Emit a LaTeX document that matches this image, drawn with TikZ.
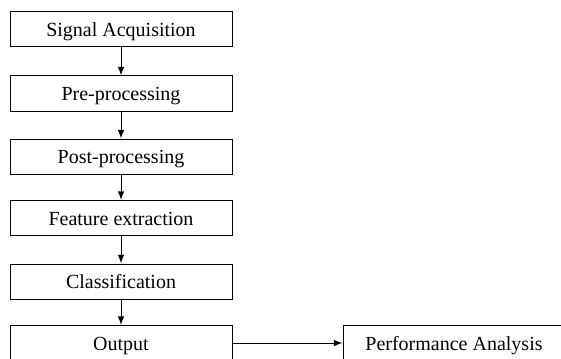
\documentclass[tikz,border=0pt]{standalone}
\usepackage{fontspec}
\setmainfont{Liberation Serif}
\usepackage{tikz}

\tikzset{
  stagebox/.style={draw, line width=0.5pt, minimum width=111pt, minimum height=17.5pt,
    inner sep=0pt, text height=7pt, text depth=0pt},
  flow/.style={->, >=latex, line width=0.5pt}
}

\begin{document}
\begin{tikzpicture}[x=0.5pt, y=-0.5pt]
                \useasboundingbox (0,0) rectangle (561,358);
                \clip (0,0) rectangle (561,358);
                \node[stagebox] (acq) at (121,29.5) {Signal Acquisition};
                \node[stagebox] (pre) at (121,93.5) {Pre-processing};
                \node[stagebox] (post) at (121,156.5) {Post-processing};
                \node[stagebox] (feat) at (121,218) {Feature extraction};
                \node[stagebox] (cls) at (121,281.5) {Classification};
                \node[stagebox] (out) at (121,343) {Output};
                \node[stagebox] (perf) at (454,343) {Performance Analysis};
                \draw[flow] (acq) -- (pre);
                \draw[flow] (pre) -- (post);
                \draw[flow] (post) -- (feat);
                \draw[flow] (feat) -- (cls);
                \draw[flow] (cls) -- (out);
                \draw[flow] (out) -- (perf);
            \end{tikzpicture}
\end{document}
